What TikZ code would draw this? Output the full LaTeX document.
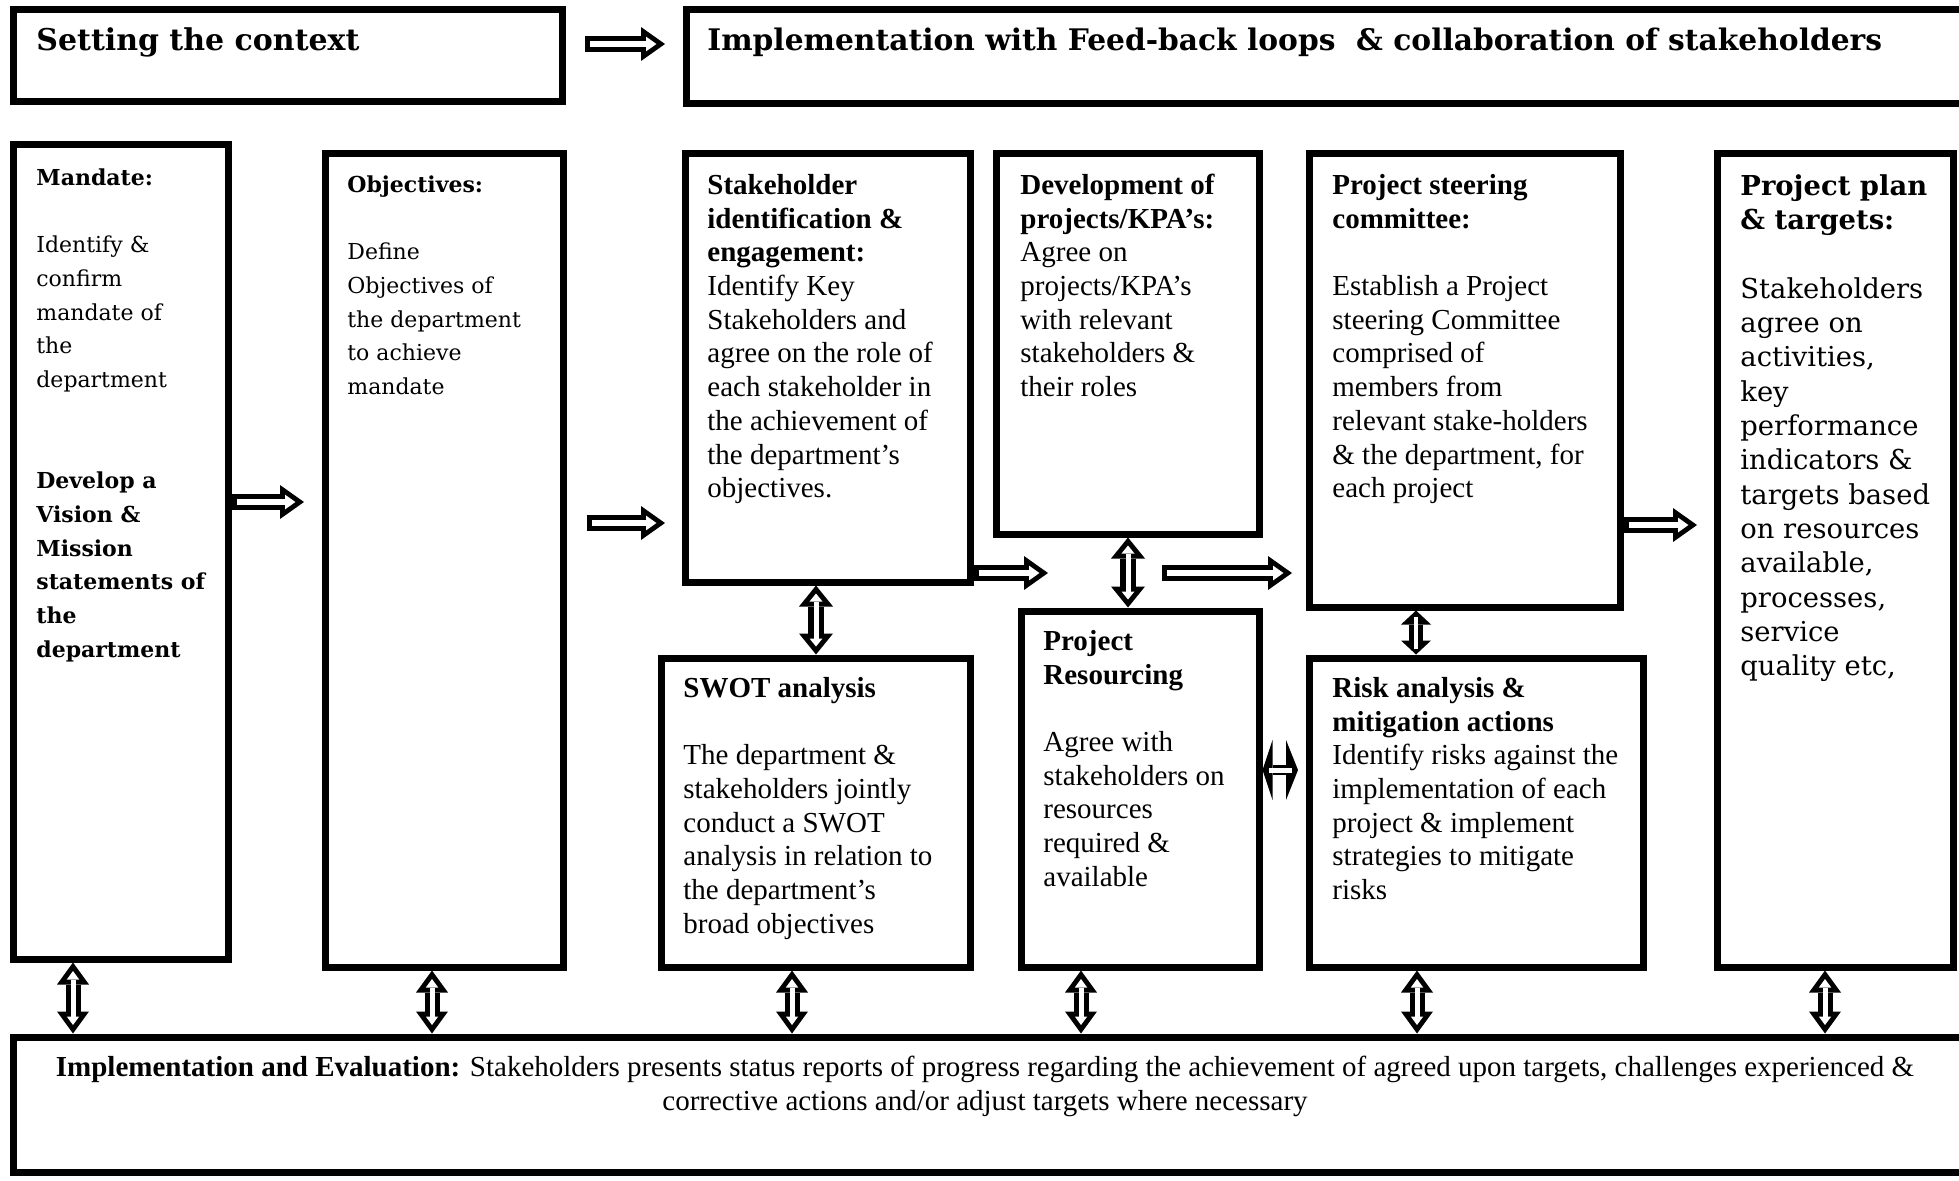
\documentclass[tikz,border=0pt]{standalone}
\usepackage{fontspec}
\setmainfont{Liberation Serif}
\newfontfamily\bkm{DejaVu Serif}
\usetikzlibrary{arrows.meta,fit,calc}
\newcommand{\fst}{\rule{0pt}{12pt}}
\tikzset{
  box/.style={draw=black,line width=3.5pt,inner sep=0pt},
  tms/.style={anchor=north west,inner sep=0pt,align=left,font=\fontsize{14.5}{16.85}\selectfont},
  bks/.style={anchor=north west,inner sep=0pt,align=left,font=\bkm\fontsize{11}{16.85}\selectfont},
  bkp/.style={anchor=north west,inner sep=0pt,align=left,font=\bkm\fontsize{13.7}{17.15}\selectfont},
  ttl/.style={anchor=base west,inner sep=0pt,font=\bkm\bfseries\fontsize{15}{17}\selectfont},
  blk/.style={line width=8pt,-{Triangle[length=12pt,width=17pt,line width=0pt]},
    postaction={draw=white,line width=3pt,-{Triangle[length=5.2pt,width=7.4pt,line width=0pt]},shorten >=4.3pt,shorten <=2.5pt}},
  dblk/.style={line width=7.5pt,{Triangle[length=11pt,width=16pt,line width=0pt]}-{Triangle[length=11pt,width=16pt,line width=0pt]},
    postaction={draw=white,line width=2.5pt,{Triangle[length=4.25pt,width=6.2pt,line width=0pt]}-{Triangle[length=4.25pt,width=6.2pt,line width=0pt]},shorten >=4.25pt,shorten <=4.25pt}},
  dblkL/.style={line width=8pt,{Triangle[length=10.5pt,width=17pt,line width=0pt]}-{Triangle[length=10.5pt,width=17pt,line width=0pt]},
    postaction={draw=white,line width=2.5pt,{Triangle[length=4pt,width=6.5pt,line width=0pt]}-{Triangle[length=4pt,width=6.5pt,line width=0pt]},shorten >=4pt,shorten <=4pt}},
  dblkS/.style={line width=7pt,{Triangle[length=7pt,width=15pt,line width=0pt]}-{Triangle[length=7pt,width=15pt,line width=0pt]},
    postaction={draw=white,line width=2.2pt,-,shorten >=3pt,shorten <=3pt}},
  hdbl/.style={line width=5pt,{Triangle[length=5pt,width=30pt,line width=0pt]}-{Triangle[length=6pt,width=30pt,line width=0pt]},
    postaction={draw=white,line width=2.5pt,-,shorten >=3pt,shorten <=3pt}}
}
\begin{document}
\begin{tikzpicture}[x=0.5pt,y=-0.5pt]
\fill[white] (0,0) rectangle (1959,1180);
\useasboundingbox (0,0) rectangle (1959,1180);
% boxes
\node[box,fit={(13,9) (562,101)}] (setbox) {};
\node[box,fit={(686,9) (1968,103)}] (implbox) {};
\node[box,fit={(13,144) (228,959)}] (mand) {};
\node[box,fit={(325,153) (563,967)}] (obj) {};
\node[box,fit={(685,153) (970,582)}] (stake) {};
\node[box,fit={(996,153) (1259,534)}] (dev) {};
\node[box,fit={(1309,153) (1620,607)}] (steer) {};
\node[box,fit={(1717,153) (1953,967)}] (plan) {};
\node[box,fit={(661,658) (970,967)}] (swot) {};
\node[box,fit={(1021,611) (1259,967)}] (resour) {};
\node[box,fit={(1309,658) (1643,967)}] (risk) {};
\node[box,fit={(13,1037) (1968,1172)}] (evalbox) {};
% titles
\node[ttl] (setT) at (36,50) {Setting the context};
\node[ttl,font=\bkm\bfseries\fontsize{14.85}{17}\selectfont] (implT) at (707,50) {Implementation with Feed-back loops~ \& collaboration of stakeholders};
% texts
\node[bks] (mandT) at (36,161) {\fst\textbf{Mandate:}\\[16.85pt]Identify \&\\confirm\\mandate of\\the\\department\\[33.7pt]\textbf{Develop a}\\\textbf{Vision \&}\\\textbf{Mission}\\\textbf{statements of}\\\textbf{the}\\\textbf{department}};
\node[bks] (objT) at (347,168) {\fst\textbf{Objectives:}\\[16.85pt]Define\\Objectives of\\the department\\to achieve\\mandate};
\node[tms] (stakeT) at (707,170) {\fst\textbf{Stakeholder}\\\textbf{identification \&}\\\textbf{engagement:}\\Identify Key\\Stakeholders and\\agree on the role of\\each stakeholder in\\the achievement of\\the department’s\\objectives.};
\node[tms] (devT) at (1020,170) {\fst\textbf{Development of}\\\textbf{projects/KPA’s:}\\Agree on\\projects/KPA’s\\with relevant\\stakeholders \&\\their roles};
\node[tms] (steerT) at (1332,170) {\fst\textbf{Project steering}\\\textbf{committee:}\\[16.85pt]Establish a Project\\steering Committee\\comprised of\\members from\\relevant stake-holders\\\& the department, for\\each project};
\node[bkp] (planT) at (1740,171) {\fst\textbf{Project plan}\\\textbf{\& targets:}\\[17.15pt]Stakeholders\\agree on\\activities,\\key\\performance\\indicators \&\\targets based\\on resources\\available,\\processes,\\service\\quality etc,};
\node[tms] (swotT) at (683,673) {\fst\textbf{SWOT analysis}\\[16.85pt]The department \&\\stakeholders jointly\\conduct a SWOT\\analysis in relation to\\the department’s\\broad objectives};
\node[tms] (resourT) at (1043,626) {\fst\textbf{Project}\\\textbf{Resourcing}\\[16.85pt]Agree with\\stakeholders on\\resources\\required \&\\available};
\node[tms] (riskT) at (1332,673) {\fst\textbf{Risk analysis \&}\\\textbf{mitigation actions}\\Identify risks against the\\implementation of each\\project \& implement\\strategies to mitigate\\risks};
\node[tms,anchor=north,align=center] (evalT) at (985,1052) {\fst\textbf{Implementation and Evaluation:} Stakeholders presents status reports of progress regarding the achievement of agreed upon targets, challenges experienced \&\\corrective actions and/or adjust targets where necessary};
% arrows
\coordinate (a1s) at (585,44); \coordinate (a1e) at (665,44);
\draw[blk] (a1s) -- (a1e);
\coordinate (m2o) at (304,502);
\draw[blk] (mand.east |- m2o) -- (m2o);
\coordinate (o2s) at (587,523); \coordinate (o2e) at (665,523);
\draw[blk] (o2s) -- (o2e);
\coordinate (s2r) at (1048,573);
\draw[blk] (stake.east |- s2r) -- (s2r);
\coordinate (d2s1) at (1162,573); \coordinate (d2s2) at (1292,573);
\draw[blk] (d2s1) -- (d2s2);
\coordinate (st2p) at (1697,525);
\draw[blk] (steer.east |- st2p) -- (st2p);
\coordinate (dr) at (1128,0);
\draw[dblkL] (dr |- dev.south) -- (dr |- resour.north);
\coordinate (sw) at (816,0);
\draw[dblkL] (sw |- stake.south) -- (sw |- swot.north);
\coordinate (sr) at (1416,0);
\draw[dblkS] (sr |- steer.south) -- (sr |- risk.north);
\coordinate (rr) at (1298,770);
\draw[hdbl] (resour.east |- rr) -- (rr);
% bottom arrows
\coordinate (b1) at (73,0); \coordinate (b2) at (432,0); \coordinate (b3) at (792,0);
\coordinate (b4) at (1081,0); \coordinate (b5) at (1417,0); \coordinate (b6) at (1825,0);
\draw[dblk] (b1 |- mand.south) -- (b1 |- evalbox.north);
\draw[dblk] (b2 |- obj.south) -- (b2 |- evalbox.north);
\draw[dblk] (b3 |- swot.south) -- (b3 |- evalbox.north);
\draw[dblk] (b4 |- resour.south) -- (b4 |- evalbox.north);
\draw[dblk] (b5 |- risk.south) -- (b5 |- evalbox.north);
\draw[dblk] (b6 |- plan.south) -- (b6 |- evalbox.north);
\end{tikzpicture}
\end{document}
